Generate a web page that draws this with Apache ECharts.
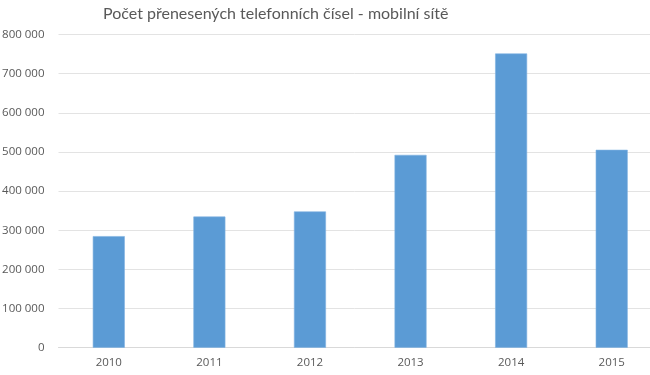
<!DOCTYPE html>
<html>
<head>
<meta charset="utf-8">
<script src="https://cdn.jsdelivr.net/npm/echarts@6/dist/echarts.min.js"></script>
<style>html,body{margin:0;padding:0;background:#fff}#c{width:650px;height:375px}</style>
</head>
<body>
<div id="c"></div>
<script>
const titleText = "Počet přenesených telefonních čísel - mobilní sítě";
const categories = ["2010", "2011", "2012", "2013", "2014", "2015"];
const values = [285000, 335000, 348000, 492500, 751500, 505500];
const yTicks = [0, 100000, 200000, 300000, 400000, 500000, 600000, 700000, 800000];

function fmt(v) {
  return String(v).replace(/\B(?=(\d{3})+(?!\d))/g, " ");
}

const chart = echarts.init(document.getElementById('c'), null, {renderer: 'canvas'});
chart.setOption({
  animation: false,
  title: {
    text: titleText,
    left: 98,
    top: 1,
    textStyle: {fontFamily: 'Lato', fontSize: 16, fontWeight: 'normal', color: '#595959'}
  },
  grid: {left: 58.5, top: 34.5, right: -12, bottom: 27.3, containLabel: false, outerBoundsMode: 'none'},
  xAxis: {
    type: 'category',
    data: categories,
    axisLine: {lineStyle: {color: '#d9d9d9'}},
    axisTick: {show: false},
    axisLabel: {color: '#595959', fontFamily: 'Open Sans', fontSize: 11.5, margin: 9}
  },
  yAxis: {
    type: 'value',
    min: yTicks[0],
    max: yTicks[yTicks.length - 1],
    interval: yTicks[1] - yTicks[0],
    axisLine: {show: false},
    axisTick: {show: false},
    splitLine: {lineStyle: {color: '#e3e3e3'}},
    axisLabel: {color: '#595959', fontFamily: 'Open Sans', fontSize: 11.5, margin: 14, formatter: fmt}
  },
  series: [{
    type: 'bar',
    data: values,
    barWidth: 32,
    itemStyle: {color: '#5b9bd5', borderColor: '#7fb1e0', borderWidth: 0.6}
  }]
});
</script>
</body>
</html>
